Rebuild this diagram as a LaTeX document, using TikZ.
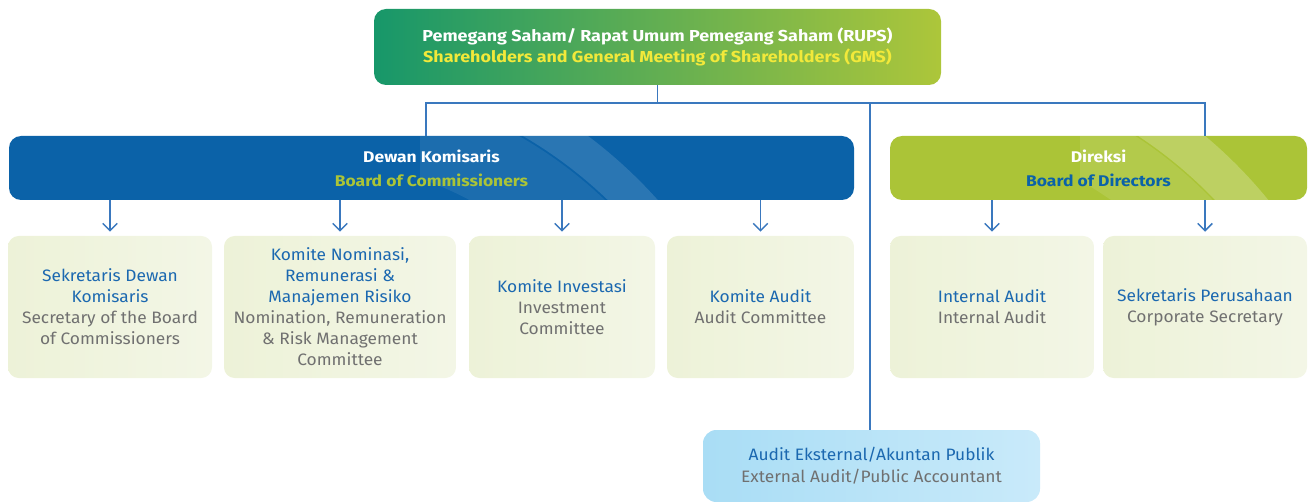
\documentclass[tikz,border=0pt]{standalone}
\usepackage{fontspec}
\setmainfont{Fira Sans}[FakeStretch=1.05]
\newfontfamily\headfont{Fira Sans}[FakeStretch=1.13]
\usetikzlibrary{arrows.meta}
\definecolor{idb}{HTML}{1B68B0}
\definecolor{eng}{HTML}{707070}
\definecolor{dewanblue}{HTML}{0B62A8}
\definecolor{direksigreen}{HTML}{ABC437}
\definecolor{topleft}{HTML}{17976A}
\definecolor{topright}{HTML}{ADC63A}
\definecolor{gmsyellow}{HTML}{F2E93A}
\definecolor{subfill}{HTML}{EDF2D8}
\definecolor{subfillb}{HTML}{F3F6E6}
\definecolor{extleft}{HTML}{A9DDF5}
\definecolor{extright}{HTML}{C9EAFA}
\definecolor{connc}{HTML}{3A78BE}
\newcommand\ida[1]{\textcolor{idb}{#1}}
\newcommand\eng[1]{\textcolor{eng}{#1}}
\tikzset{
  box/.style={rounded corners=9pt, inner sep=0pt, align=center, draw=none},
  subbox/.style={box, rounded corners=8pt, left color=subfill, right color=subfillb,
    minimum height=106.5pt, font=\fontsize{12.4}{15.75}\selectfont},
  headtext/.style={font=\fontsize{11.6}{18}\selectfont\headfont\bfseries, align=center, inner sep=0pt},
  conn/.style={draw=connc, line width=1.2pt},
  arr/.style={conn, -{Straight Barb[length=5.5pt,width=11pt,line width=1.1pt]}, shorten >=3pt},
}
\begin{document}
\begin{tikzpicture}[x=0.75pt,y=-0.75pt]
\useasboundingbox (0,0) rectangle (1309,502);
% top
\node[box, left color=topleft, right color=topright, minimum width=425.25pt, minimum height=57pt,
  font=\fontsize{11.9}{15.75}\selectfont\headfont\bfseries] (top) at (657.5,47)
  {\textcolor{white}{Pemegang Saham/ Rapat Umum Pemegang Saham (RUPS)}\\
   \textcolor{gmsyellow}{Shareholders and General Meeting of Shareholders (GMS)}};
% boards
\node[box, fill=dewanblue, minimum width=633.75pt, minimum height=48pt] (dewan) at (431.5,168) {};
\begin{scope}
  \clip[rounded corners=9pt] (9,136) rectangle (854,200);
  \clip (420,130) rectangle (860,205);
  \draw[white, opacity=0.13, line width=27pt] (300,520) circle (462);
  \draw[white, opacity=0.07, line width=60pt] (300,520) circle (402);
\end{scope}
\node[headtext] (dewant) at (dewan.center)
  {\textcolor{white}{Dewan Komisaris}\\\textcolor{direksigreen}{Board of Commissioners}};
\node[box, fill=direksigreen, minimum width=312.75pt, minimum height=48pt] (direksi) at (1098.5,168) {};
\begin{scope}
  \clip[rounded corners=9pt] (890,136) rectangle (1307,200);
  \clip (1080,130) rectangle (1310,205);
  \draw[white, opacity=0.22, line width=30pt] (900,500) circle (455);
  \draw[white, opacity=0.10, line width=50pt] (900,500) circle (400);
\end{scope}
\node[headtext] (direksit) at (direksi.center)
  {\textcolor{white}{Direksi}\\\textcolor{dewanblue}{Board of Directors}};
% sub boxes
\node[subbox, minimum width=153pt] (s1) at (110,307)
  {\ida{Sekretaris Dewan}\\\ida{Komisaris}\\\eng{Secretary of the Board}\\\eng{of Commissioners}};
\node[subbox, minimum width=174pt] (s2) at (340,307)
  {\ida{Komite Nominasi,}\\\ida{Remunerasi \&}\\\ida{Manajemen Risiko}\\\eng{Nomination, Remuneration}\\\eng{\& Risk Management}\\\eng{Committee}};
\node[subbox, minimum width=139.5pt] (s3) at (562,307)
  {\ida{Komite Investasi}\\\eng{Investment}\\\eng{Committee}};
\node[subbox, minimum width=140.25pt] (s4) at (760.5,307)
  {\ida{Komite Audit}\\\eng{Audit Committee}};
\node[subbox, minimum width=153pt] (s5) at (992,307)
  {\ida{Internal Audit}\\\eng{Internal Audit}};
\node[subbox, minimum width=153pt] (s6) at (1205,307)
  {\ida{Sekretaris Perusahaan}\\\eng{Corporate Secretary}};
% external
\node[box, rounded corners=10pt, left color=extleft, right color=extright, minimum width=252.75pt, minimum height=54pt,
  font=\fontsize{12.4}{16.5}\selectfont] (ext) at (871.5,466)
  {\ida{Audit Eksternal/Akuntan Publik}\\\eng{External Audit/Public Accountant}};
% connectors
\coordinate (jl) at (426,103);
\coordinate (jm) at (870,103);
\coordinate (jr) at (1205,103);
\draw[conn] (top.south) -- (top.south |- jl);
\draw[conn] (jl |- dewan.north) -- (jl) -- (jr) -- (jr |- direksi.north);
\draw[conn] (jm) -- (jm |- ext.north);
\foreach \s in {s1,s2,s3,s4} \draw[arr] (\s.north |- dewan.south) -- (\s.north);
\foreach \s in {s5,s6} \draw[arr] (\s.north |- direksi.south) -- (\s.north);
\end{tikzpicture}
\end{document}
